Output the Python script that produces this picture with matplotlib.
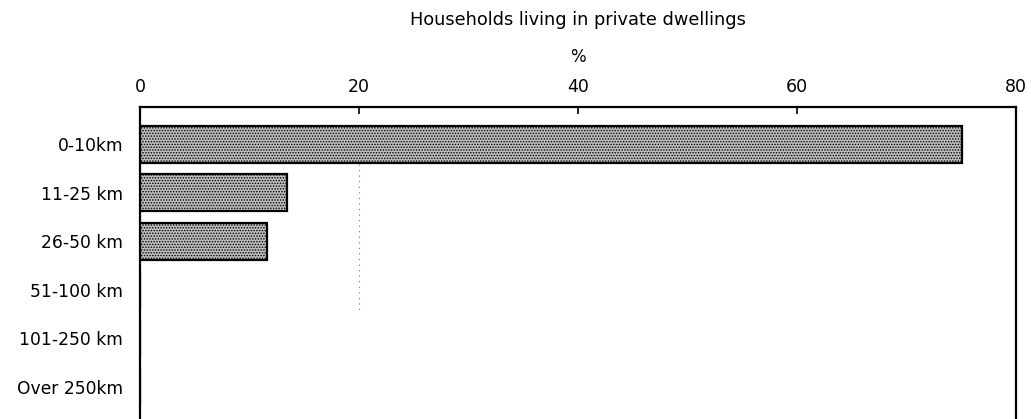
from matplotlib import pyplot as plt

# data
categories = ["0-10km", "11-25 km", "26-50 km", "51-100 km", "101-250 km", "Over 250km"]
values = [75.1, 13.4, 11.6, 0, 0, 0]
xticks = [0, 20, 40, 60, 80]
title = "Households living in private dwellings"
xlabel = "%"

plt.rcParams["font.family"] = ["DejaVu Sans"]
plt.rcParams["hatch.color"] = "#333333"
plt.rcParams["hatch.linewidth"] = 0.7

fig = plt.figure(figsize=(10.31, 4.19), dpi=100)
ax = fig.add_axes([140 / 1031, 0.0, 876 / 1031, 312 / 419])

ypos = list(range(len(categories)))
ax.barh(ypos, values, height=0.76, color="#bdbdbd", edgecolor="black",
        linewidth=1.6, hatch="......")

# faint dotted gridline at 20
ax.vlines(20, 0.4, 3.5, colors="#777777", linestyles=(0, (1, 4)), linewidth=0.8)

ax.set_xlim(0, 80)
ax.set_ylim(5.66, -0.77)
ax.set_yticks(ypos)
ax.set_yticklabels(categories, fontsize=12.3)
ax.set_xticks(xticks)
ax.xaxis.tick_top()
ax.tick_params(axis="x", direction="in", length=5, width=1.2, pad=8, labelsize=12.5)
ax.tick_params(axis="y", length=0, pad=12)
for side in ["left", "right", "top"]:
    ax.spines[side].set_linewidth(1.6)
ax.spines["bottom"].set_visible(False)

fig.text(578 / 1031, 1 - 20 / 419, title, ha="center", va="center", fontsize=12.8)
fig.text(578 / 1031, 1 - 57 / 419, xlabel, ha="center", va="center", fontsize=12)

fig.savefig("out.png", dpi=100)
